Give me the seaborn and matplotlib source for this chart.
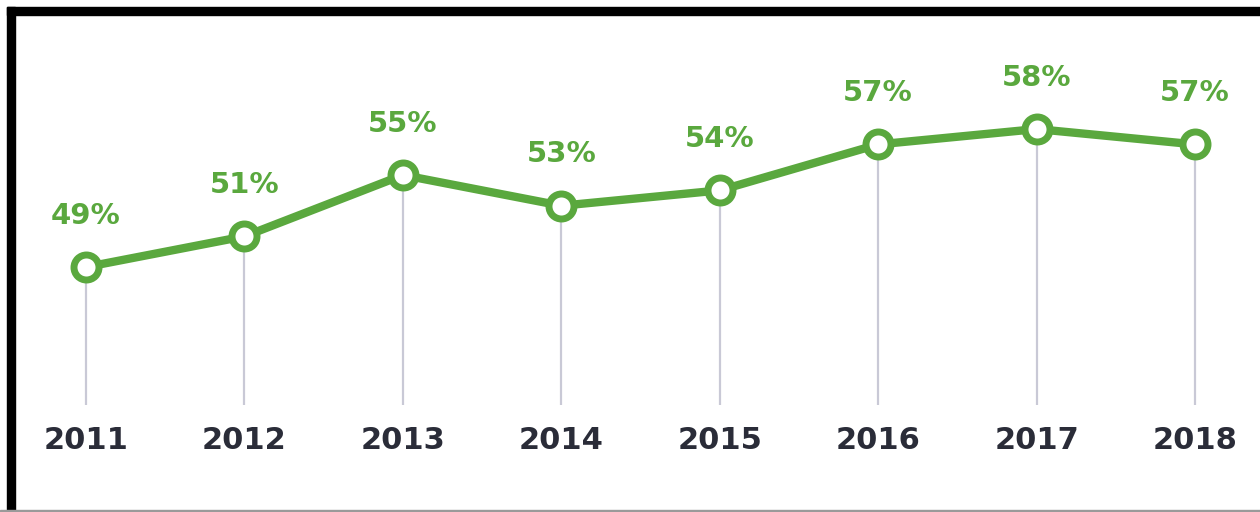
import matplotlib
matplotlib.use("Agg")
import matplotlib.pyplot as plt
import seaborn as sns
import pandas as pd
from matplotlib.patches import Rectangle

years = ["2011", "2012", "2013", "2014", "2015", "2016", "2017", "2018"]
values = [49, 51, 55, 53, 54, 57, 58, 57]
labels = ["49%", "51%", "55%", "53%", "54%", "57%", "58%", "57%"]

GREEN = "#5aa83e"
DARK = "#2a2c38"
GRID = "#c9c9d6"

sns.set_theme(style="white")
plt.rcParams["font.family"] = ["DejaVu Sans"]

df = pd.DataFrame({"x": range(len(years)), "year": years, "value": values})

fig = plt.figure(figsize=(12.6, 5.12), dpi=100)
ax = fig.add_axes([0, 0, 1, 1])
ax.set_facecolor("white")

# vertical guide lines
ax.vlines(df["x"], 40, df["value"], color=GRID, linewidth=1.6, zorder=1)

sns.lineplot(data=df, x="x", y="value", ax=ax, color=GREEN, linewidth=6,
             marker="o", markersize=18, markerfacecolor="white",
             markeredgecolor=GREEN, markeredgewidth=5, zorder=3)

for i, (v, lab) in enumerate(zip(values, labels)):
    ax.text(i, v + 3.35, lab, ha="center", va="center", color=GREEN,
            fontsize=21, fontweight="bold")
    ax.text(i, 37.7, years[i], ha="center", va="center", color=DARK,
            fontsize=22, fontweight="bold")

ax.set_xlim(-0.543, 7.41)
ax.set_ylim(33.02, 66.42)
ax.axis("off")

# frame
fig.patches.append(Rectangle((7/1260, 0), 8/1260, 1 - 7/512, transform=fig.transFigure,
                             color="black", zorder=10))
fig.patches.append(Rectangle((7/1260, 1 - 15/512), 1, 8/512, transform=fig.transFigure,
                             color="black", zorder=10))
fig.patches.append(Rectangle((0, 0), 1, 2/512, transform=fig.transFigure,
                             color="#9a9a9a", zorder=10))

fig.savefig("out.png", dpi=100)
